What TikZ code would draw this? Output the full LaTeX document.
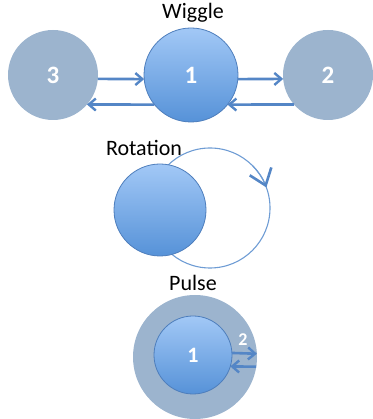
\documentclass[tikz,border=0pt]{standalone}
\usepackage{fontspec}
\setmainfont{Carlito}
\usetikzlibrary{arrows.meta}
\definecolor{slate}{RGB}{156,180,206}
\definecolor{lightblue}{RGB}{162,200,246}
\definecolor{deepblue}{RGB}{86,146,216}
\definecolor{rimblue}{RGB}{78,126,188}
\definecolor{arrowblue}{RGB}{84,134,198}
\definecolor{orbitblue}{RGB}{110,156,212}
\begin{document}
\begin{tikzpicture}[x=1pt,y=1pt,
  greyball/.style={circle,fill=slate,inner sep=0pt,outer sep=0pt,text=white},
  blueball/.style={circle,top color=lightblue,bottom color=deepblue,draw=rimblue,
    line width=0.8pt,inner sep=0pt,outer sep=0pt,text=white},
  bignum/.style={font=\fontsize{25}{25}\bfseries\selectfont},
  caption/.style={font=\fontsize{22}{22}\selectfont,text=black},
  link/.style={draw=arrowblue,line width=2.6pt,
    -{Straight Barb[length=7pt,width=12pt,line width=2.4pt]}},
  orbitline/.style={draw=orbitblue,line width=1.1pt}]
\useasboundingbox (0,0) rectangle (372,419);

% Wiggle: three nodes linked by arrows
\node[caption] (wiggle) at (193,406) {Wiggle};
\node[greyball,bignum,minimum size=90pt] (n3) at (53,344) {3};
\node[blueball,bignum,minimum size=94pt] (n1) at (191,344) {1};
\node[greyball,bignum,minimum size=90pt] (n2) at (328,344) {2};
\draw[link] (n3.-5) -- (n1.185);
\draw[link] (n1.-5) -- (n2.185);
\draw[link] (n1.219.7) -- (n3.-41.8);
\draw[link] (n2.221.8) -- (n1.-39.7);

% Rotation: a ball circling along an orbit
\node[caption] (rotation) at (144,271) {Rotation};
\node[circle,orbitline,minimum size=120pt,inner sep=0pt,outer sep=0pt] (orbit) at (210,211) {};
\draw[orbitline,-{Straight Barb[length=15pt,width=23pt,line width=2.6pt,color=arrowblue]}]
  (orbit.45) arc[start angle=45,end angle=20,radius=60pt];
\node[blueball,minimum size=92pt] (spinner) at (160,209) {};

% Pulse: an inner ball inside an outer ring
\node[caption] (pulse) at (193,136) {Pulse};
\node[greyball,minimum size=124pt] (outer) at (195,62) {};
\node[blueball,minimum size=78pt,font=\fontsize{22}{22}\bfseries\selectfont] (inner) at (193,64) {1};
\node[text=white,font=\fontsize{18}{18}\bfseries\selectfont] (two) at (243,79) {2};
\draw[link] (inner.3) -- (outer.3.7);
\draw[link] (outer.-9.3) -- (inner.-17.9);
\end{tikzpicture}
\end{document}
